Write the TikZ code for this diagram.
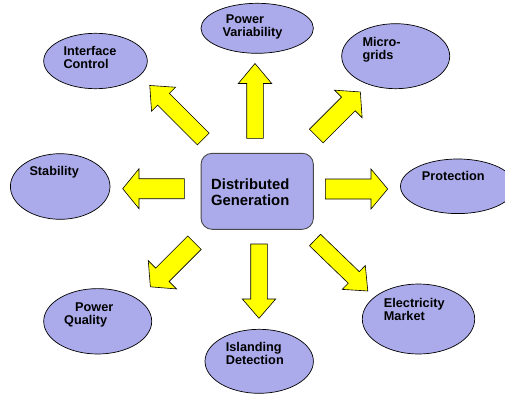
\documentclass[tikz,border=0pt]{standalone}
\usepackage{fontspec}
\setmainfont{Liberation Sans}
\usepackage{tikz}
\usetikzlibrary{shapes.geometric}

\definecolor{bubblefill}{RGB}{171,171,235}
\definecolor{arrowfill}{RGB}{255,255,0}
\definecolor{boxline}{RGB}{72,72,72}

% block arrow: tail, angle, length, shaft half width, head half width, head length
\newcommand{\blockarrow}[6]{%
  \draw [bigarrow, shift={(#1)}, rotate=#2] (0,-#4) -- ({#3-#6},-#4) -- ({#3-#6},-#5) -- (#3,0) -- ({#3-#6},#5) -- ({#3-#6},#4) -- (0,#4) -- cycle ;
}

\tikzset{
  bubble/.style={ellipse, draw=black, line width=0.7pt, fill=bubblefill, inner sep=0pt},
  topic/.style={anchor=north west, inner sep=0pt, align=left, font=\bfseries\fontsize{12.7}{13}\selectfont},
  bigarrow/.style={draw=black, line width=0.6pt, fill=arrowfill, line join=miter},
}

\begin{document}
\begin{tikzpicture}[x=1pt,y=1pt,yscale=-1,xscale=1]
  \useasboundingbox (0,0) rectangle (505,393);

  %Shape: Ellipse
  \node (varOval) [bubble, minimum width=112.4pt, minimum height=50pt] at (257.2,28.3) {};
  %Shape: Ellipse
  \node (ifcOval) [bubble, minimum width=103.6pt, minimum height=55.4pt] at (95.5,61) {};
  %Shape: Ellipse
  \node (microOval) [bubble, minimum width=108pt, minimum height=65pt] at (395.7,56.2) {};
  %Shape: Ellipse
  \node (stabOval) [bubble, minimum width=99.6pt, minimum height=65.6pt] at (60.2,186.5) {};
  %Shape: Ellipse
  \node (protOval) [bubble, minimum width=114.6pt, minimum height=54.6pt] at (457.8,186.3) {};
  %Shape: Ellipse
  \node (pqOval) [bubble, minimum width=108pt, minimum height=65.4pt] at (97.7,321.3) {};
  %Shape: Ellipse
  \node (islOval) [bubble, minimum width=108.4pt, minimum height=64pt] at (259.2,361.3) {};
  %Shape: Ellipse
  \node (mktOval) [bubble, minimum width=112.4pt, minimum height=70pt] at (418.5,319) {};

  %Shape: Rounded Rectangle
  \node (dgBox) [draw=boxline, line width=0.9pt, fill=bubblefill, rounded corners=11pt, minimum width=112.3pt, minimum height=76pt, inner sep=0pt] at (257.2,191.3) {};

  %Block Arrows
  \blockarrow{255,138.3}{-90}{74.8}{8.3}{16.7}{20}
  \blockarrow{259,244}{90}{74.3}{8.3}{16.7}{19.3}
  \blockarrow{184.3,188.7}{180}{61.6}{10}{20}{16.3}
  \blockarrow{325.3,189}{0}{62.4}{10}{20}{16.7}
  \blockarrow{203.3,139}{-135}{75.7}{8.3}{17}{19.5}
  \blockarrow{316.3,136}{-45}{62.3}{9.7}{19.5}{17}
  \blockarrow{194.5,242.7}{135}{62.4}{9.5}{20}{17}
  \blockarrow{315,240}{44}{73.4}{8}{16.6}{19.5}

  % Text Node
  \node (dgText) [anchor=north west, inner sep=0pt, align=left, font=\bfseries\fontsize{14.8}{16}\selectfont] at (211,178.3) {Distributed\\Generation};
  % Text Node
  \node (varText) [topic] at (222.3,14.7) {\hspace*{3.4pt}Power\\Variability};
  % Text Node
  \node (ifcText) [topic] at (63.3,45.7) {Interface\\Control};
  % Text Node
  \node (microText) [topic] at (362.3,37) {Micro-\\grids};
  % Text Node
  \node (stabText) [topic] at (29.3,166) {Stability};
  % Text Node
  \node (protText) [topic] at (421.7,170.7) {Protection};
  % Text Node
  \node (pqText) [topic] at (64,302.7) {\hspace*{11pt}Power\\Quality};
  % Text Node
  \node (islText) [topic] at (225.7,342.3) {Islanding\\Detection};
  % Text Node
  \node (mktText) [topic] at (383.7,297.7) {Electricity\\Market};
\end{tikzpicture}
\end{document}
